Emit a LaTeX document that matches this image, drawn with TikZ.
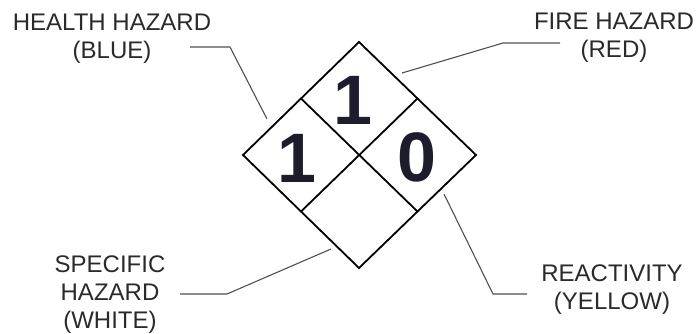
\documentclass[tikz,border=0pt]{standalone}
\usepackage{fontspec}
\setmainfont{Liberation Sans}
\usepackage{xcolor}
\usetikzlibrary{calc}

\definecolor{labelgray}{HTML}{2A2A2A}
\definecolor{leadergray}{HTML}{505050}
\definecolor{digitnavy}{HTML}{1C1C2C}

\begin{document}
\begin{tikzpicture}[
            x=1pt,
            y=-1pt,
            hazardlabel/.style={
                align=center,
                text=labelgray,
                font=\fontsize{24}{28}\selectfont,
                inner sep=0pt
            },
            rating/.style={
                text=digitnavy,
                font=\fontsize{70}{70}\selectfont\bfseries,
                inner sep=0pt
            },
            leader/.style={
                draw=leadergray,
                line width=1.1pt
            },
            frame/.style={
                draw=black,
                line width=1.8pt,
                line join=miter
            }
            ]

            \useasboundingbox (0,0) rectangle (699,333);

            \coordinate (top) at (359,42);
            \coordinate (left) at (243,155);
            \coordinate (right) at (476,155);
            \coordinate (bottom) at (359,268);

            \draw[frame] (top) -- (right) -- (bottom) -- (left) -- cycle;
            \draw[frame] ($(top)!0.5!(left)$) -- ($(right)!0.5!(bottom)$);
            \draw[frame] ($(top)!0.5!(right)$) -- ($(left)!0.5!(bottom)$);

            \node[rating] (fire) at (353,100) {1};
            \node[rating] (health) at (297,158) {1};
            \node[rating] (reactivity) at (417,157) {0};

            \node[hazardlabel] (healthlabel) at (112,39)
            {HEALTH HAZARD\\(BLUE)};

            \node[hazardlabel] (firelabel) at (614,38)
            {FIRE HAZARD\\(RED)};

            \node[hazardlabel] (specificlabel) at (110,295)
            {SPECIFIC\\HAZARD\\(WHITE)};

            \node[hazardlabel] (reactivitylabel) at (612,290)
            {REACTIVITY\\(YELLOW)};

            \coordinate (healthstart) at (190,47);
            \coordinate (healthtip) at (267,119);
            \coordinate (firestart) at (560,43);
            \coordinate (firetip) at (402,73);
            \coordinate (specificstart) at (180,294);
            \coordinate (specifictip) at (331,249);
            \coordinate (reactivitystart) at (527,294);
            \coordinate (reactivitytip) at (444,194);

            \draw[leader]
            (healthstart) -- ++(40,0) -- (healthtip);

            \draw[leader]
            (firestart) -- ++(-57,0) -- (firetip);

            \draw[leader]
            (specificstart) -- ++(47,0) -- (specifictip);

            \draw[leader]
            (reactivitystart) -- ++(-34,0) -- (reactivitytip);

        \end{tikzpicture}
\end{document}
